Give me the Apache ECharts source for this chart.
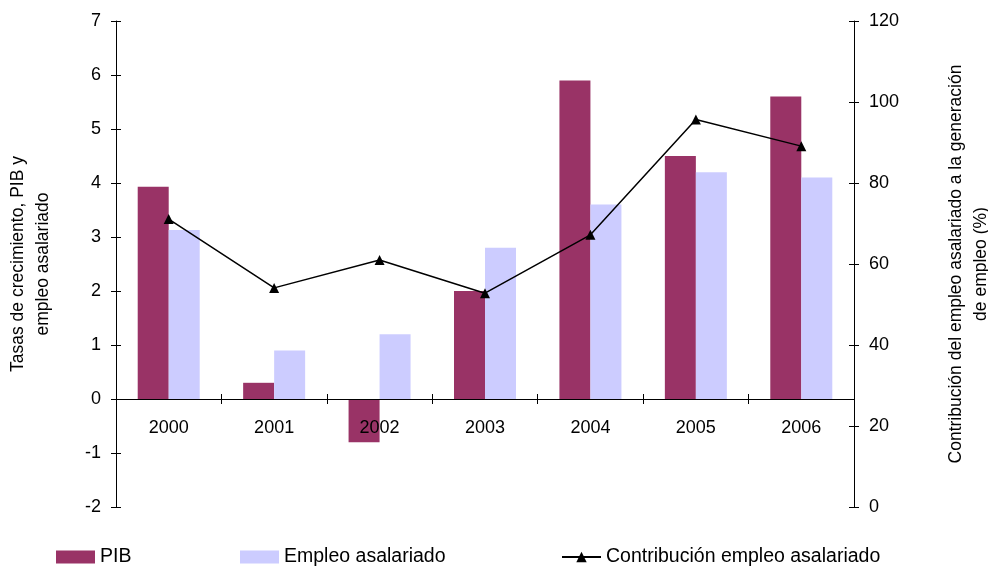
<!DOCTYPE html>
<html><head><meta charset="utf-8">
<script src="https://cdn.jsdelivr.net/npm/echarts@6/dist/echarts.min.js"></script>
<style>html,body{margin:0;padding:0;background:#fff}#c{width:988px;height:570px}</style>
</head><body><div id="c"></div>
<script>
const categories = ['2000','2001','2002','2003','2004','2005','2006'];
const pib = [3.93, 0.3, -0.8, 2.0, 5.9, 4.5, 5.6];
const empleo = [3.13, 0.9, 1.2, 2.8, 3.6, 4.2, 4.1];
const contribucion = [71.1, 54.1, 61.0, 52.8, 67.2, 95.7, 89.1];
const leftTicks = {min: -2, max: 7, interval: 1};
const rightTicks = {min: 0, max: 120, interval: 20};

const FONT = 'Liberation Sans, Arial, sans-serif';
const chart = echarts.init(document.getElementById('c'));
const axLine = {show: true, lineStyle: {color: '#000', width: 1}};
const tickStyle = {color: '#000', width: 1};
const legendText = {fontSize: 19.5, color: '#000', fontFamily: FONT};
// plot area geometry
const G = {left: 116, right: 134, top: 21, bottom: 63};
// y pixel of value 0 on the left axis, used to place the category axis grid
const zeroFrac = (leftTicks.max - 0) / (leftTicks.max - leftTicks.min);
const plotH = 570 - G.top - G.bottom;
const zeroBottom = 570 - (G.top + plotH * zeroFrac);

chart.setOption({
  animation: false,
  textStyle: {fontFamily: FONT},
  grid: [
    {left: G.left, right: G.right, top: G.top, bottom: G.bottom, containLabel: false, outerBoundsMode: 'none'},
    {left: G.left, right: G.right, top: G.top, bottom: zeroBottom, containLabel: false, outerBoundsMode: 'none'}
  ],
  legend: [
    {data: [{name: 'PIB', icon: 'rect'}], left: 56, top: 547, padding: 0, itemWidth: 39, itemHeight: 13, textStyle: legendText},
    {data: [{name: 'Empleo asalariado', icon: 'rect'}], left: 240, top: 547, padding: 0, itemWidth: 39, itemHeight: 13, textStyle: legendText},
    {data: ['Contribución empleo asalariado'], left: 561, top: 547, padding: 0, itemWidth: 39, itemHeight: 13, textStyle: legendText}
  ],
  xAxis: [
    {type: 'category', data: categories, gridIndex: 0, position: 'bottom',
     axisLine: {show: false}, axisTick: {show: false}, axisLabel: {show: false}, splitLine: {show: false}},
    {type: 'category', data: categories, gridIndex: 1, position: 'bottom', z: 10,
     axisLine: {show: true, onZero: false, lineStyle: {color: '#000', width: 1}},
     axisTick: {show: true, length: 5, inside: false, lineStyle: tickStyle},
     axisLabel: {color: '#000', fontSize: 18, margin: 20, fontFamily: FONT},
     splitLine: {show: false}},
    {type: 'category', data: categories, gridIndex: 1, position: 'bottom', z: 10,
     axisLine: {show: false, onZero: false},
     axisTick: {show: true, length: 5, inside: true, lineStyle: tickStyle},
     axisLabel: {show: false}, splitLine: {show: false}}
  ],
  yAxis: [
    {type: 'value', gridIndex: 0, position: 'left', min: leftTicks.min, max: leftTicks.max, interval: leftTicks.interval,
     name: 'Tasas de crecimiento, PIB y\nempleo asalariado', nameLocation: 'middle', nameRotate: 90, nameGap: 60,
     nameTextStyle: {fontSize: 17.5, color: '#000', fontFamily: FONT, lineHeight: 25},
     axisLine: axLine, axisTick: {show: true, length: 5, lineStyle: tickStyle},
     axisLabel: {color: '#000', fontSize: 18, margin: 15, fontFamily: FONT}, splitLine: {show: false}},
    {type: 'value', gridIndex: 0, position: 'right', min: rightTicks.min, max: rightTicks.max, interval: rightTicks.interval,
     name: 'Contribución del empleo asalariado a la generación\nde empleo (%)', nameLocation: 'middle', nameRotate: 90, nameGap: 90,
     nameTextStyle: {fontSize: 17.5, color: '#000', fontFamily: FONT, lineHeight: 25},
     axisLine: axLine, axisTick: {show: true, length: 5, lineStyle: tickStyle},
     axisLabel: {color: '#000', fontSize: 18, margin: 15, fontFamily: FONT}, splitLine: {show: false}},
    {type: 'value', gridIndex: 0, position: 'left', min: leftTicks.min, max: leftTicks.max, interval: leftTicks.interval,
     axisLine: {show: false}, axisTick: {show: true, inside: true, length: 5, lineStyle: tickStyle},
     axisLabel: {show: false}, splitLine: {show: false}},
    {type: 'value', gridIndex: 0, position: 'right', min: rightTicks.min, max: rightTicks.max, interval: rightTicks.interval,
     axisLine: {show: false}, axisTick: {show: true, inside: true, length: 5, lineStyle: tickStyle},
     axisLabel: {show: false}, splitLine: {show: false}},
    {type: 'value', gridIndex: 1, show: false, min: 0, max: 1}
  ],
  series: [
    {name: 'PIB', type: 'bar', data: pib, xAxisIndex: 0, yAxisIndex: 0, barWidth: 31, barGap: '0%',
     itemStyle: {color: '#993366'}},
    {name: 'Empleo asalariado', type: 'bar', data: empleo, xAxisIndex: 0, yAxisIndex: 0, barWidth: 31, barGap: '0%',
     itemStyle: {color: '#CCCCFF'}},
    {name: 'Contribución empleo asalariado', type: 'line', data: contribucion, xAxisIndex: 0, yAxisIndex: 1,
     symbol: 'triangle', symbolSize: 10, lineStyle: {color: '#000', width: 1.5}, itemStyle: {color: '#000'}, z: 5}
  ]
});
</script></body></html>
